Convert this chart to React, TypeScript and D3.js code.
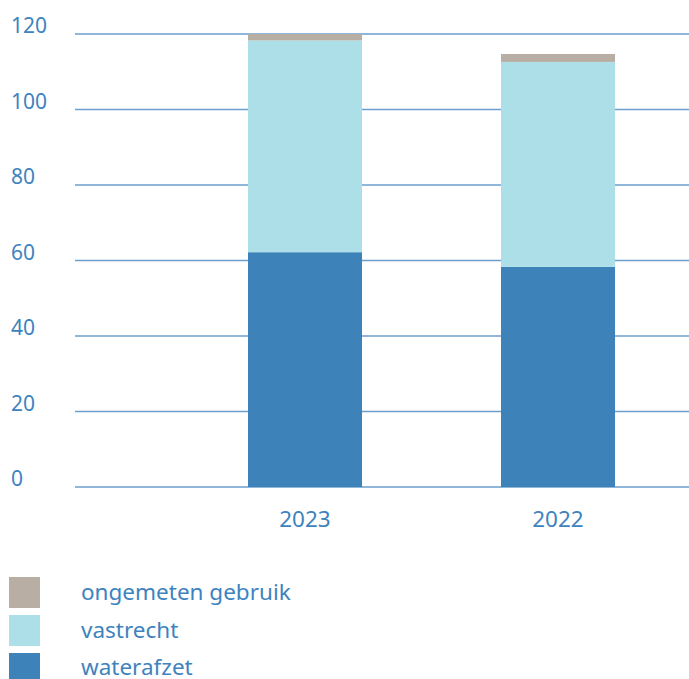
import React from "react";
import * as d3 from "d3";

const categories = ["2023", "2022"];
const seriesNames = ["waterafzet", "vastrecht", "ongemeten gebruik"];
const waterafzet = [62.2, 58.3];
const vastrecht = [56.1, 54.3];
const ongemeten = [1.7, 2.1];
const yTicks = [0, 20, 40, 60, 80, 100, 120];
const colors = ["#3d82b9", "#addfe8", "#b8aea4"];

const W = 689;
const H = 679;
const FONT = "'Noto Sans', sans-serif";
const TEXT = "#3e83bd";

export default function App() {
  const y = d3.scaleLinear().domain([0, 120]).range([487, 34]);
  const rows = categories.map((c, i) => ({ cat: c, waterafzet: waterafzet[i], vastrecht: vastrecht[i], ongemeten: ongemeten[i] }));
  const stack = d3.stack<any>().keys(["waterafzet", "vastrecht", "ongemeten"])(rows);
  const bw = 114;
  const xs = d3.scalePoint<string>().domain(categories).range([305, 558]);

  const legend = [
    { name: seriesNames[2], color: colors[2] },
    { name: seriesNames[1], color: colors[1] },
    { name: seriesNames[0], color: colors[0] },
  ];

  return (
    <svg width={W} height={H} style={{ position: "absolute", left: 0, top: 0 }} fontFamily={FONT}>
      <rect width={W} height={H} fill="#fff" />
      {yTicks.map((t) => (
        <g key={t}>
          <line x1={75} x2={689} y1={y(t)} y2={y(t)} stroke="#6b9fcc" strokeWidth={1.3} />
          <text x={11} y={y(t) - 1} fontSize={21} fill={TEXT}>{t}</text>
        </g>
      ))}
      {stack.map((s, si) => (
        <g key={si} fill={colors[si]}>
          {s.map((d: any, i: number) => (
            <rect key={i} x={xs(d.data.cat)! - bw / 2} width={bw} y={y(d[1])} height={y(d[0]) - y(d[1])} />
          ))}
        </g>
      ))}
      {categories.map((c) => (
        <text key={c} x={xs(c)} y={527} textAnchor="middle" fontSize={22.5} fill={TEXT}>{c}</text>
      ))}
      {legend.map((l, i) => (
        <g key={l.name}>
          <rect x={9} y={577 + i * 38} width={31} height={31} fill={l.color} />
          <text x={81} y={600 + i * 37.5} fontSize={22.5} fill={TEXT}>{l.name}</text>
        </g>
      ))}
    </svg>
  );
}
